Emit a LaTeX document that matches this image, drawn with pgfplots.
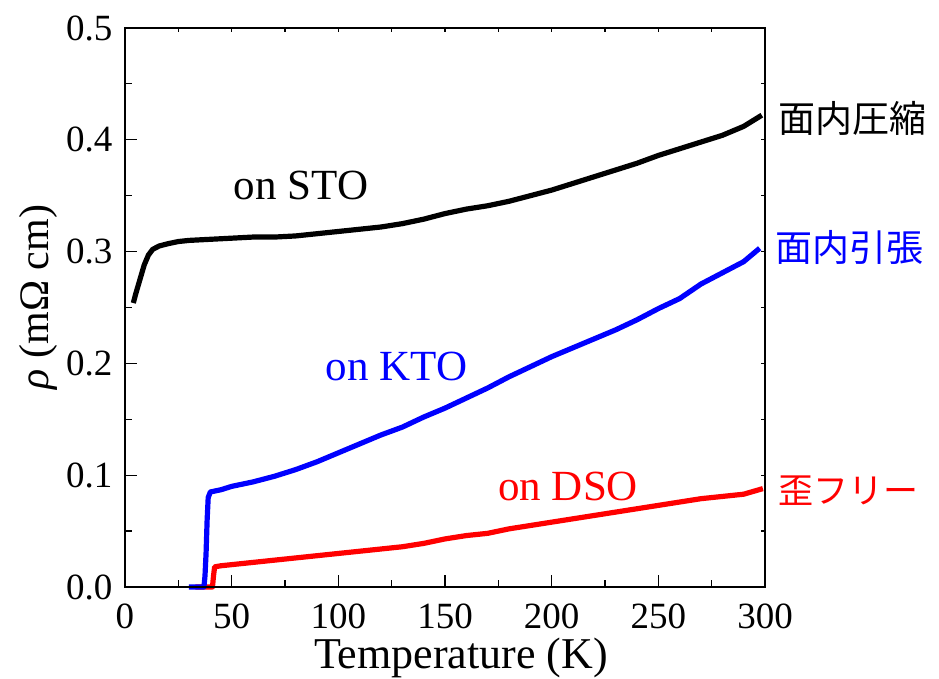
\documentclass[border=0pt]{standalone}
\usepackage{fontspec}
\setmainfont{Liberation Serif}
\newfontfamily\jp{Noto Sans CJK JP}
\usepackage{pgfplots}
\pgfplotsset{compat=1.18}
\definecolor{cblue}{RGB}{0,0,255}
\definecolor{cred}{RGB}{255,0,0}
\begin{document}
\begin{tikzpicture}
\begin{axis}[
 at={(0pt,0pt)}, anchor=south west,
 scale only axis, width=640pt, height=559pt,
 xmin=0, xmax=300, ymin=0, ymax=0.5,
 xtick={0,50,100,150,200,250,300}, minor x tick num=1,
 ytick={0,0.1,0.2,0.3,0.4,0.5}, minor y tick num=1,
 xtick pos=bottom, ytick pos=left,
 major tick length=12pt, minor tick length=7pt,
 every tick/.style={black, line width=1.2pt},
 axis line style={line width=1.5pt},
 tick label style={font=\fontsize{37}{42}\selectfont},
 /pgf/number format/assume math mode=true,
 yticklabel style={xshift=-9pt, /pgf/number format/.cd, fixed, fixed zerofill, precision=1},
 xticklabel style={yshift=-13pt},
 xlabel={Temperature (K)},
 xlabel style={font=\fontsize{44}{48}\selectfont, at={(axis description cs:0.525,-0.1458)}, anchor=base},
 ylabel={{\itshape ρ} (mΩ cm)},
 ylabel style={font=\fontsize{42}{46}\selectfont, at={(axis description cs:-0.120,0.519)}, anchor=base, rotate=0},
 clip=false,
]
\addplot[cred, line width=5.2pt, line join=round] coordinates {
(33,0) (41,0) (41.5,0.01) (42,0.018) (45,0.019) (50,0.020) (60,0.022) (70,0.024) (80,0.026) (90,0.028) (100,0.030) (110,0.032) (120,0.034) (130,0.036) (140,0.039) (150,0.043) (160,0.046) (170,0.048) (180,0.052) (190,0.055) (200,0.058) (210,0.061) (220,0.064) (230,0.067) (240,0.070) (250,0.073) (260,0.076) (270,0.079) (280,0.081) (290,0.083) (299,0.088)
};
\addplot[cblue, line width=5.2pt, line join=round] coordinates {
(30,0.0) (37,0.0) (37.5,0.01) (38,0.03) (38.5,0.06) (39,0.08) (40,0.085) (45,0.087) (50,0.090) (55,0.092) (60,0.094) (70,0.099) (80,0.105) (90,0.112) (100,0.120) (110,0.128) (120,0.136) (130,0.143) (140,0.152) (150,0.160) (160,0.169) (170,0.178) (180,0.188) (190,0.197) (200,0.206) (210,0.214) (220,0.222) (230,0.230) (240,0.239) (250,0.249) (260,0.258) (270,0.271) (280,0.281) (290,0.291) (297.5,0.303)
};
\addplot[black, line width=5.2pt, line join=round] coordinates {
(3.9,0.254) (5,0.262) (7,0.275) (9,0.288) (11,0.297) (13,0.302) (16,0.305) (20,0.307) (25,0.309) (30,0.310) (40,0.311) (50,0.312) (60,0.313) (70,0.313) (80,0.314) (90,0.316) (100,0.318) (110,0.320) (120,0.322) (130,0.325) (140,0.329) (150,0.334) (160,0.338) (170,0.341) (180,0.345) (190,0.350) (200,0.355) (210,0.361) (220,0.367) (230,0.373) (240,0.379) (250,0.386) (260,0.392) (270,0.398) (280,0.404) (290,0.412) (298.5,0.422)
};
\node[anchor=base, font=\fontsize{43}{48}\selectfont] at (axis cs:82.5,0.347) {on STO};
\node[anchor=base, font=\fontsize{43}{48}\selectfont, text=cblue] at (axis cs:127.3,0.185) {on KTO};
\node[anchor=base, font=\fontsize{43}{48}\selectfont, text=cred] at (axis cs:207.7,0.0778) {on DSO};
\node[anchor=west, inner sep=0pt, font=\jp\fontsize{37}{40}\selectfont] at (axis cs:306,0.4195) {面内圧縮};
\node[anchor=west, inner sep=0pt, font=\jp\fontsize{37}{40}\selectfont, text=cblue] at (axis cs:305,0.304) {面内引張};
\node[anchor=west, inner sep=0pt, font=\jp\fontsize{35}{40}\selectfont, text=cred] at (axis cs:306,0.0859) {歪フリー};
\end{axis}
\begin{axis}[
 at={(0pt,0pt)}, anchor=south west,
 scale only axis, width=640pt, height=559pt,
 xmin=0, xmax=300, ymin=0, ymax=0.5,
 xtick={0,50,100,150,200,250,300}, minor x tick num=1,
 ytick={0,0.1,0.2,0.3,0.4,0.5}, minor y tick num=1,
 xtick pos=right, ytick pos=right,
 xticklabels={}, yticklabels={},
 major tick length=4pt, minor tick length=4pt,
 every tick/.style={black, line width=1.2pt},
 axis line style={line width=1.5pt},
]
\end{axis}
\pgfresetboundingbox
\path[use as bounding box] (-125pt,-92pt) rectangle (814pt,587pt);
\end{tikzpicture}
\end{document}
